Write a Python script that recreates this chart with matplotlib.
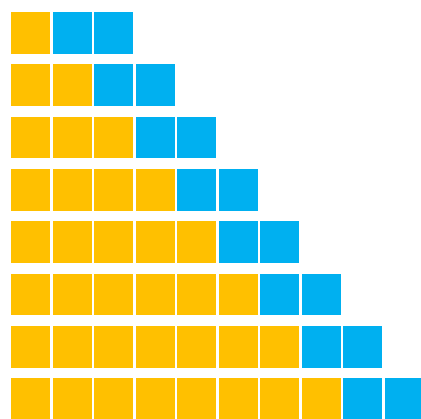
import matplotlib
matplotlib.use("Agg")
import matplotlib.pyplot as plt

# Unit counts per row: gold squares followed by blue squares
rows = [1, 2, 3, 4, 5, 6, 7, 8]
gold_units = [1, 2, 3, 4, 5, 6, 7, 8]
blue_units = [2, 2, 2, 2, 2, 2, 2, 2]

gold = "#FFC000"
blue = "#00B0F0"

fig = plt.figure(figsize=(4.21, 4.19), dpi=100)
ax = fig.add_axes([0, 0, 1, 1])

cell_w = 0.95
cell_h = 0.80
for i, (g, b) in enumerate(zip(gold_units, blue_units)):
    lefts = list(range(g + b))
    colors = [gold] * g + [blue] * b
    ax.barh([i] * len(lefts), [cell_w] * len(lefts),
            left=[l + (1 - cell_w) / 2 for l in lefts],
            height=cell_h, color=colors, linewidth=0)

ax.set_xlim(-0.241, 9.904)
ax.set_ylim(7.382, -0.631)
ax.axis("off")

fig.savefig("out.png", dpi=100)
